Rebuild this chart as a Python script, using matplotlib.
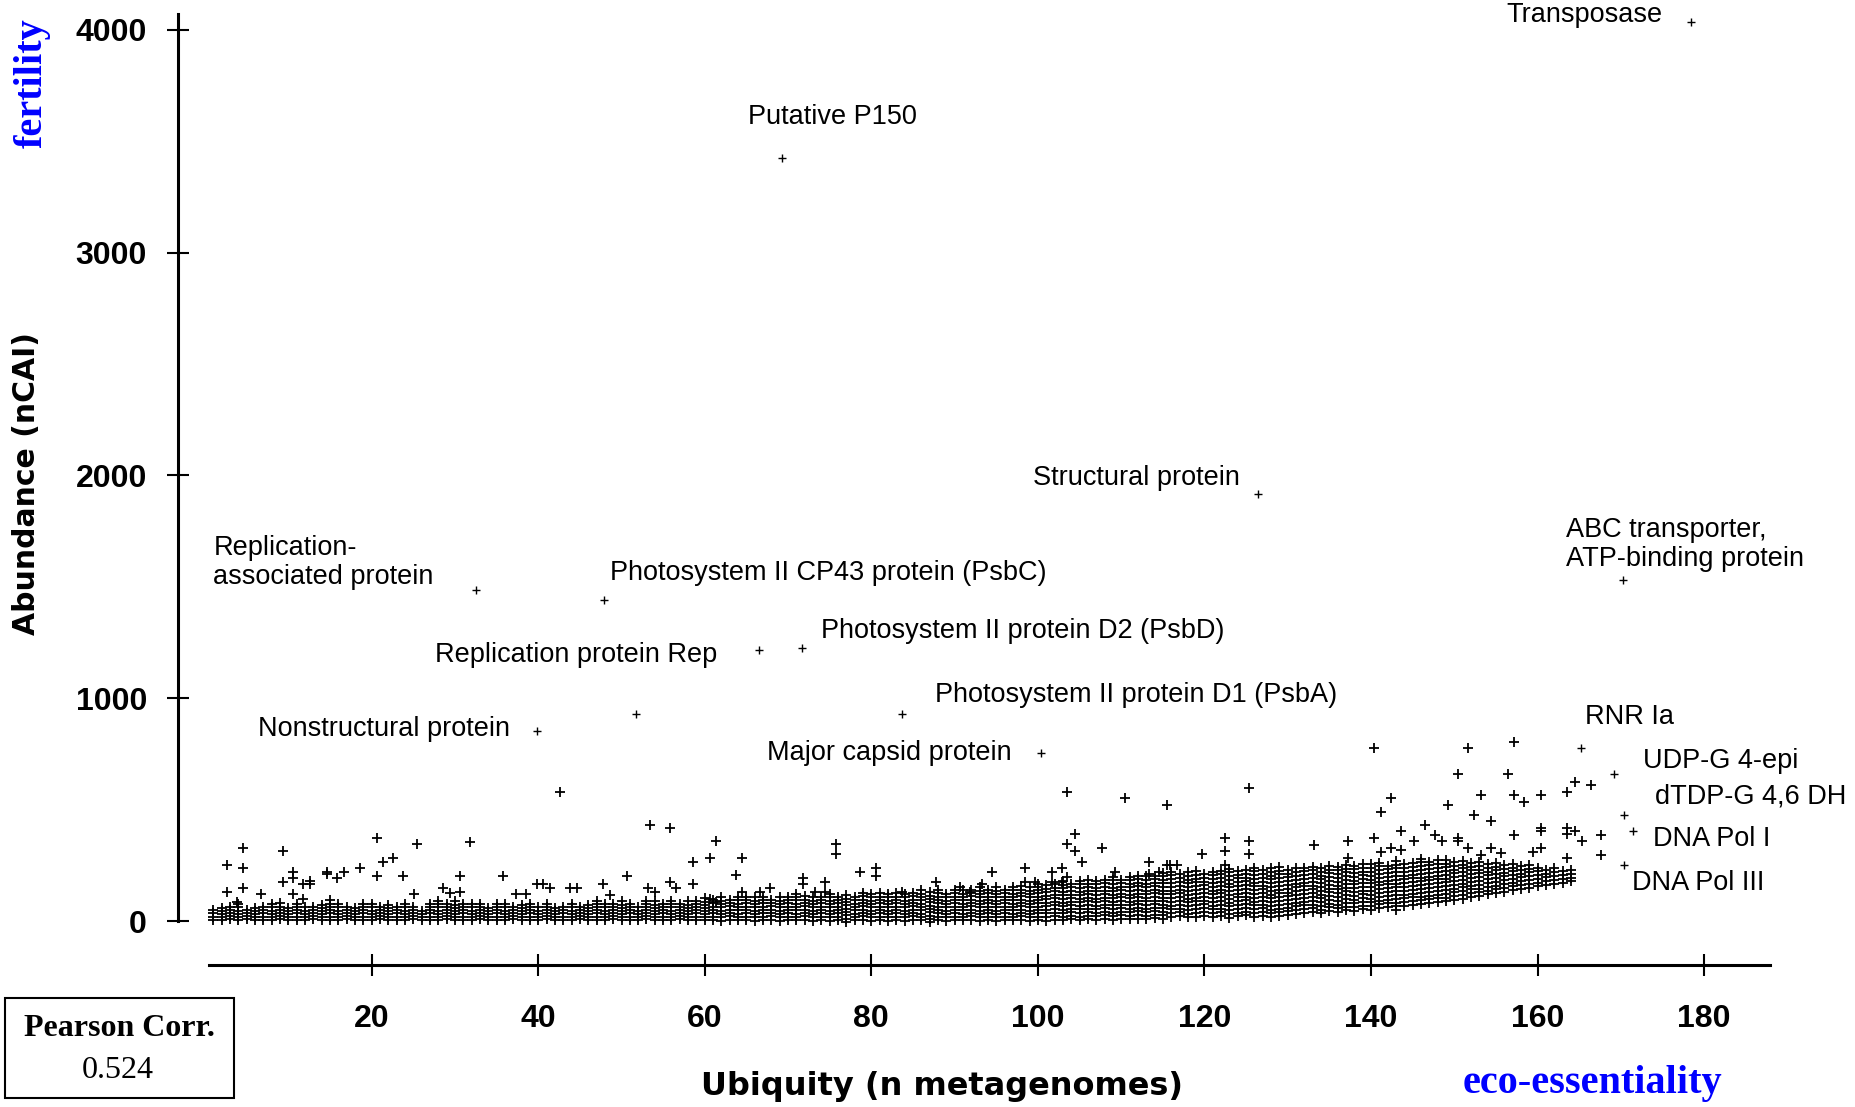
import matplotlib
matplotlib.use("Agg")
import matplotlib.pyplot as plt
from matplotlib.patches import Rectangle

# Dense column stacks: ubiquity -> abundance values
stack_text = """
1: 6 20 34 48
2: 4 18 32 46 60
3: 7 21 35 49 63
4: 5 19 33 47 61 75
5: 8 22 36 50
6: 4 18 32 46 60
7: 6 20 34 48 62
8: 5 19 33 47 61 78
9: 7 21 35 49 63 80
10: 4 18 32 46 60
11: 6 20 34 48 62 75
12: 5 19 33 47 61
13: 8 22 36 50 64
14: 4 18 32 46 60 74
15: 6 20 34 48 62 78 94
16: 5 19 33 47 61 75
17: 7 21 35 49 63
18: 4 18 32 46 60
19: 6 20 34 48 62 76
20: 5 19 33 47 61 75
21: 8 22 36 50 64
22: 4 18 32 46 60 74
23: 6 20 34 48 62
24: 5 19 33 47 61 76
25: 7 21 35 49 63
26: 4 18 32 46
27: 6 20 34 48 62 76
28: 5 19 33 47 61 75 90
29: 7 21 35 49 63 78
30: 4 18 32 46 60 74 88
31: 6 20 34 48 62 76
32: 5 19 33 47 61 75
33: 8 22 36 50 64 78
34: 4 18 32 46 60
35: 6 20 34 48 62 76
36: 5 19 33 47 61 75
37: 7 21 35 49 63
38: 4 18 32 46 60 74
39: 6 20 34 48 62 76
40: 5 19 33 47 61
41: 7 21 35 49 63 77
42: 4 18 32 46 60
43: 6 20 34 48 62
44: 5 19 33 47 61 75
45: 7 21 35 49 63
46: 4 18 32 46 60 74
47: 6 20 34 48 62 76 90
48: 5 19 33 47 61 75
49: 7 21 35 49 63 77
50: 4 18 32 46 60 74 88
51: 6 20 34 48 62 76
52: 5 19 33 47 61
53: 7 21 35 49 63 77 92
54: 4 18 32 46 60 74 88
55: 6 20 34 48 62 76
56: 5 19 33 47 61 75 92
57: 7 21 35 49 63 77
58: 4 18 32 46 60 74 88
59: 6 20 34 48 62 76 90
60: 3 17 31 45 59 73 87 102
61: 5 20 35 50 65 80 95
62: 2 17 32 47 62 77 92 107
63: 6 21 36 51 66 81 96
64: 3 18 33 48 63 78 93 108
65: 5 20 35 50 65 80 95 110
66: 1 16 31 46 61 76 91 106
67: 4 19 34 49 64 79 94 109
68: 6 21 36 51 66 81 96
69: 2 17 32 47 62 77 92 107
70: 5 20 35 50 65 80 95 110
71: 3 18 33 48 63 78 93 108 120
72: 6 21 36 51 66 81 96 111
73: 1 16 31 46 61 76 91 106
74: 4 19 34 49 64 79 94 109
75: 2 17 32 47 62 77 92 107 120
76: 5 20 35 50 65 80 95 110
77: -5 10 25 40 55 70 85 100 115
78: 3 18 33 48 63 78 93 108
79: 6 21 36 51 66 81 96 111 124
80: 2 17 32 47 62 77 92 107 120
81: 4 19 34 49 64 79 94 109 124
82: 1 16 31 46 61 76 91 106 121
83: 5 20 35 50 65 80 95 110 125
84: 2 17 32 47 62 77 92 107 122
85: 6 21 36 51 66 81 96 111 126
86: 3 18 33 48 63 78 93 108 123 138
87: -6 9 24 39 54 69 84 99 114 129
88: 4 19 34 49 64 79 94 109 124 139
89: 2 17 32 47 62 77 92 107 122
90: 5 20 35 50 65 80 95 110 125 140
91: 3 18 33 48 63 78 93 108 123 138
92: 6 21 36 51 66 81 96 111 126 141
93: 1 16 31 46 61 76 91 106 121 136 151
94: 4 19 34 49 64 79 94 109 124 139
95: 2 17 32 47 62 77 92 107 122 137 152
96: 5 20 35 50 65 80 95 110 125 140
97: 3 18 33 48 63 78 93 108 123 138 153
98: 6 21 36 51 66 81 96 111 126 141 156
99: 1 16 31 46 61 76 91 106 121 136 151
100: 4 19 34 49 64 79 94 109 124 139 154 168
101: 2 18 34 50 66 82 98 114 130 146 162
102: 6 22 38 54 70 86 102 118 134 150 166
103: 3 19 35 51 67 83 99 115 131 147 163 178
104: 7 23 39 55 71 87 103 119 135 151 167
105: 4 20 36 52 68 84 100 116 132 148 164 180
106: 8 24 40 56 72 88 104 120 136 152 168 184
107: 5 21 37 53 69 85 101 117 133 149 165 181
108: 9 25 41 57 73 89 105 121 137 153 169 185
109: 6 22 38 54 70 86 102 118 134 150 166 182 196
110: 10 26 42 58 74 90 106 122 138 154 170 186
111: 7 23 39 55 71 87 103 119 135 151 167 183 199
112: 11 27 43 59 75 91 107 123 139 155 171 187 203
113: 8 24 40 56 72 88 104 120 136 152 168 184 200
114: 12 28 44 60 76 92 108 124 140 156 172 188 204
115: 9 25 41 57 73 89 105 121 137 153 169 185 201 215
116: 18 35 52 69 86 103 120 137 154 171 188 205 220
117: 22 39 56 73 90 107 124 141 158 175 192 209
118: 16 33 50 67 84 101 118 135 152 169 186 203 220
119: 20 37 54 71 88 105 122 139 156 173 190 207 224
120: 24 41 58 75 92 109 126 143 160 177 194 211
121: 18 35 52 69 86 103 120 137 154 171 188 205 222
122: 22 39 56 73 90 107 124 141 158 175 192 209 226
123: 15 32 49 66 83 100 117 134 151 168 185 202 219 234
124: 21 38 55 72 89 106 123 140 157 174 191 208 225
125: 25 42 59 76 93 110 127 144 161 178 195 212 229
126: 19 36 53 70 87 104 121 138 155 172 189 206 223 238
127: 23 40 57 74 91 108 125 142 159 176 193 210 227
128: 17 34 51 68 85 102 119 136 153 170 187 204 221 238
129: 22 39 56 73 90 107 124 141 158 175 192 209 226 242
130: 26 43 60 77 94 111 128 145 162 179 196 213 230
131: 32 49 66 83 100 117 134 151 168 185 202 219 236
132: 36 53 70 87 104 121 138 155 172 189 206 223 240
133: 40 57 74 91 108 125 142 159 176 193 210 227 244
134: 34 51 68 85 102 119 136 153 170 187 204 221 238
135: 44 61 78 95 112 129 146 163 180 197 214 231 248
136: 40 57 74 91 108 125 142 159 176 193 210 227 244
137: 48 65 82 99 116 133 150 167 184 201 218 235 252
138: 45 62 79 96 113 130 147 164 181 198 215 232 249
139: 52 69 86 103 120 137 154 171 188 205 222 239 256
140: 50 67 84 101 118 135 152 169 186 203 220 237 254
141: 58 75 92 109 126 143 160 177 194 211 228 245 262
142: 62 79 96 113 130 147 164 181 198 215 232 249
143: 49 66 83 100 117 134 151 168 185 202 219 236 253 270
144: 68 85 102 119 136 153 170 187 204 221 238 255
145: 72 89 106 123 140 157 174 191 208 225 242 259
146: 76 93 110 127 144 161 178 195 212 229 246 263 278
147: 80 97 114 131 148 165 182 199 216 233 250 267
148: 85 102 119 136 153 170 187 204 221 238 255 272
149: 88 105 122 139 156 173 190 207 224 241 258 275
150: 95 112 129 146 163 180 197 214 231 248 265
151: 100 117 134 151 168 185 202 219 236 253 270
152: 108 125 142 159 176 193 210 227 244 261
153: 112 129 146 163 180 197 214 231 248 265
154: 120 137 154 171 188 205 222 239 256
155: 125 142 159 176 193 210 227 244 261
156: 132 149 166 183 200 217 234 251
157: 138 155 172 189 206 223 240 257
158: 145 162 179 196 213 230 247
159: 150 167 184 201 218 235 252
160: 155 172 189 206 223 240
161: 162 179 196 213 230
162: 168 185 202 219 236
163: 172 189 206 223
164: 178 195 212 229
"""

# scattered points above the dense band
scatter_u = [2.6, 2.6, 4.6, 4.6, 4.6, 3.8, 6.7, 9.4, 9.4, 10.6, 10.6, 10.6, 11.8, 12.6, 12.6, 11.8,
             14.6, 14.6, 15.8, 16.7, 18.6, 20.6, 20.6, 21.4, 22.6, 23.8, 25.4, 25.1, 31.8, 30.6,
             30.6, 28.6, 29.4, 35.8, 37.3, 38.5, 39.8, 40.6, 41.4, 42.6, 43.8, 44.7, 47.8, 48.6,
             50.6, 53.4, 55.8, 53.2, 54.0, 55.8, 56.6,
             58.6, 58.6, 60.6, 61.4, 60.6, 61.4, 63.8, 64.5, 64.5, 66.6, 67.8, 71.8, 71.8, 73.2,
             74.4, 74.4, 75.8, 75.8, 78.6, 80.6, 80.6, 83.7, 87.8, 90.6, 91.8, 93.3, 94.5, 98.5,
             98.5, 99.7, 101.7, 102.9, 101.7, 102.9, 103.5, 104.5, 103.5, 104.5, 105.3, 103.5,
             107.7, 110.5, 115.5, 109.3, 113.3, 113.3, 114.5, 115.5,
             140.4, 151.6, 157.2, 150.4, 156.4, 164.5, 163.5, 166.4, 153.2, 157.2, 158.4, 160.4,
             142.4, 141.2, 149.2, 152.4, 154.4, 157.2, 160.4, 160.4, 163.5, 163.5, 164.5, 165.3,
             167.6, 167.6, 163.5, 146.5, 143.6, 147.7, 148.5, 150.4, 150.4, 145.2, 140.4, 137.2,
             133.2, 122.5, 122.5, 122.5, 125.3, 125.3, 125.3, 119.7, 115.9, 116.7, 137.2, 141.2,
             142.4, 143.6, 151.6, 153.2, 154.4, 155.6, 159.5, 160.4]
scatter_v = [251, 132, 326, 236, 150, 87, 120, 314, 176, 221, 192, 120, 165, 181, 165, 97,
             221, 209, 192, 221, 236, 371, 204, 266, 281, 204, 344, 120, 356, 204,
             132, 150, 124, 204, 120, 120, 165, 165, 147, 580, 147, 147, 165, 117,
             204, 431, 416, 150, 132, 176, 150,
             266, 165, 284, 359, 97, 87, 206, 284, 132, 132, 147, 195, 165, 132,
             176, 132, 344, 300, 221, 236, 204, 132, 176, 154, 132, 165, 221, 239,
             176, 176, 221, 239, 176, 176, 580, 389, 344, 314, 266, 198,
             329, 551, 521, 221, 266, 209, 221, 251,
             775, 775, 805, 658, 658, 625, 580, 610, 566, 566, 535, 566,
             551, 491, 521, 476, 449, 386, 419, 404, 419, 389, 404, 359,
             386, 296, 284, 431, 404, 386, 359, 374, 359, 359, 374, 359,
             341, 374, 314, 251, 595, 359, 299, 299, 251, 251, 284, 311,
             329, 320, 329, 296, 329, 306, 311, 326]

# named proteins
label_names = ["Transposase", "Putative P150", "Structural protein",
               "ABC transporter,\nATP-binding protein", "Replication-\nassociated protein",
               "Photosystem II CP43 protein (PsbC)", "Replication protein Rep",
               "Photosystem II protein D2 (PsbD)", "Nonstructural protein", None,
               "Photosystem II protein D1 (PsbA)", "Major capsid protein", "RNR Ia",
               "UDP-G 4-epi", "dTDP-G 4,6 DH", "DNA Pol I", "DNA Pol III"]
label_u = [178.4, 69.3, 126.4, 170.3, 32.5, 47.9, 66.5, 71.7, 39.8, 51.8,
           83.7, 100.4, 165.2, 169.2, 170.4, 171.5, 170.4]
label_v = [4037, 3426, 1918, 1530, 1487, 1440, 1216, 1227, 855, 930,
           930, 754, 775, 658, 476, 404, 251]

pearson = 0.524

# where each name is written (data coords, left aligned)
text_pos = [(156.2, 4066), (65.2, 3608), (99.4, 1988), (163.4, 1690), (1.0, 1611),
            (48.6, 1562), (27.6, 1196), (73.9, 1302), (6.4, 862), None,
            (87.7, 1015), (67.5, 755), (165.7, 915), (172.6, 718), (174.1, 558),
            (173.9, 368), (171.3, 170)]

stack_u, stack_v = [], []
for line in stack_text.strip().splitlines():
    head, vals = line.split(":")
    for v in vals.split():
        stack_u.append(int(head))
        stack_v.append(float(v))

W, H = 1856, 1107
fig = plt.figure(figsize=(W / 100, H / 100), dpi=100)
ax = fig.add_axes([177.6 / W, 1 - 964.7 / H, (1770 - 177.6) / W, (964.7 - 14) / H])

mk = dict(marker="+", linestyle="none", color="black", ms=7, mew=1.3)
ax.plot(stack_u, stack_v, **mk)
ax.plot(scatter_u, scatter_v, **mk)
ax.plot(label_u, label_v, marker="+", linestyle="none", color="black", ms=6, mew=1.0)

for name, pos in zip(label_names, text_pos):
    if name is None:
        continue
    ax.text(pos[0], pos[1], name, ha="left", va="center", fontsize=19.5,
            family="Liberation Sans", linespacing=1.15)

ax.set_xlim(-3.3, 187.9)
ax.set_ylim(-196, 4071)
for s in ["top", "right"]:
    ax.spines[s].set_visible(False)
ax.spines["left"].set_bounds(0, 4071)
ax.spines["bottom"].set_bounds(0.5, 187.9)
ax.spines["left"].set_linewidth(2.2)
ax.spines["bottom"].set_linewidth(2.2)

ax.set_xticks(range(20, 181, 20))
ax.set_yticks(range(0, 4001, 1000))
ax.tick_params(axis="x", direction="inout", length=16, width=1.5, pad=20)
ax.tick_params(axis="y", direction="inout", length=16, width=1.5, pad=14)
for lab in ax.get_xticklabels() + ax.get_yticklabels():
    lab.set_fontfamily("Liberation Sans")
    lab.set_fontweight("bold")
    lab.set_fontsize(23)

fig.text(942 / W, 1 - 1086.6 / H, "Ubiquity (n metagenomes)", ha="center", va="center",
         fontsize=23, fontweight="bold", family="DejaVu Sans")
fig.text(27 / W, 1 - 483.5 / H, "Abundance (nCAI)", ha="center", va="center",
         rotation=90, fontsize=21.5, fontweight="bold", family="DejaVu Sans")
fig.text(32 / W, 1 - 83 / H, "fertility", ha="center", va="center", rotation=90,
         fontsize=29, fontweight="bold", family="Liberation Serif", color="#0000ff")
fig.text(1592 / W, 1 - 1084 / H, "eco-essentiality", ha="center", va="center",
         fontsize=29, fontweight="bold", family="Liberation Serif", color="#0000ff")

fig.patches.append(Rectangle((4.7 / W, 1 - 1098 / H), (234 - 4.7) / W, (1098 - 998) / H,
                             transform=fig.transFigure, fill=False, lw=1.5, ec="black"))
fig.text(119 / W, 1 - 1029 / H, "Pearson Corr.", ha="center", va="center",
         fontsize=23, fontweight="bold", family="Liberation Serif")
fig.text(118 / W, 1 - 1070 / H, f"{pearson:.3f}", ha="center", va="center",
         fontsize=23, family="Liberation Serif")

fig.savefig("out.png", dpi=100)
